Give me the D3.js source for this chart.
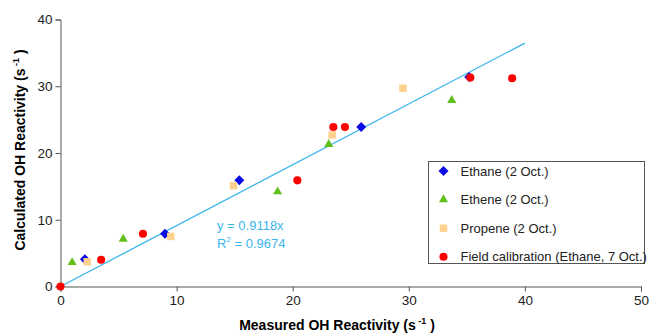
<!DOCTYPE html>
<html>
<head>
<meta charset="utf-8">
<script src="https://cdn.jsdelivr.net/npm/d3@7"></script>
<style>
  body { margin: 0; background: #fff; }
  svg { font-family: "Liberation Sans", Arial, sans-serif; }
  .axis path, .axis line { stroke: #555; }
  .axis text { fill: #222; font-size: 13.5px; }
</style>
</head>
<body>
<div id="chart"></div>
<script>
const width = 649
const height = 334

// Values
const ethaneX = [2.1, 9.0, 15.4, 25.9, 35.2]
const ethaneY = [4.1, 7.9, 15.9, 23.9, 31.4]
const etheneX = [1.0, 5.4, 18.7, 23.1, 33.7]
const etheneY = [3.6, 7.1, 14.2, 21.3, 27.9]
const propeneX = [2.3, 9.5, 14.9, 23.4, 29.5]
const propeneY = [3.7, 7.5, 15.1, 22.7, 29.7]
const fieldX = [0, 3.5, 7.1, 20.4, 23.5, 24.5, 35.3, 38.9]
const fieldY = [0, 4.0, 7.9, 15.9, 23.9, 23.9, 31.3, 31.2]

const fitSlope = 0.9118
const fitR2 = 0.9674
const fitRange = [0, 40]

const xTicks = [0, 10, 20, 30, 40, 50]
const yTicks = [0, 10, 20, 30, 40]

const margin = {left: 60.5, right: 8, top: 19.5, bottom: 47.5}

const x = d3.scaleLinear().domain([0, 50]).range([margin.left, width - margin.right])
const y = d3.scaleLinear().domain([0, 40]).range([height - margin.bottom, margin.top])

const svg = d3.select("#chart").append("svg")
    .attr("width", width)
    .attr("height", height)

// axes
svg.append("g")
    .attr("class", "axis")
    .attr("transform", "translate(0," + y(0) + ")")
    .call(d3.axisBottom(x).tickValues(xTicks).tickSize(5).tickPadding(4))

svg.append("g")
    .attr("class", "axis")
    .attr("transform", "translate(" + x(0) + ",0)")
    .call(d3.axisLeft(y).tickValues(yTicks).tickSize(5).tickPadding(3))

// axis titles with superscript
function addTitle(g, label) {
  g.append("tspan").text(label + " (s")
  g.append("tspan").attr("dy", -6).attr("font-size", "9px").text(" -1")
  g.append("tspan").attr("dy", 6).text(" )")
}

let xTitle = svg.append("text")
    .attr("x", 337)
    .attr("y", 330)
    .attr("text-anchor", "middle")
    .attr("font-weight", "bold")
    .attr("font-size", "14px")
addTitle(xTitle, "Measured OH Reactivity")

let yTitle = svg.append("text")
    .attr("transform", "translate(25,150) rotate(-90)")
    .attr("text-anchor", "middle")
    .attr("font-weight", "bold")
    .attr("font-size", "14px")
addTitle(yTitle, "Calculated OH Reactivity")

// fit line
const fitColor = "#3db5ec"
svg.append("line")
    .attr("x1", x(fitRange[0]))
    .attr("y1", y(fitSlope * fitRange[0]))
    .attr("x2", x(fitRange[1]))
    .attr("y2", y(fitSlope * fitRange[1]))
    .attr("stroke", fitColor)
    .attr("stroke-width", 1.3)

let eq = svg.append("g").attr("fill", fitColor).attr("font-size", "13px")
eq.append("text").attr("x", 217).attr("y", 230).text("y = " + fitSlope + "x")
let r2 = eq.append("text").attr("x", 217).attr("y", 248)
r2.append("tspan").text("R")
r2.append("tspan").attr("dy", -6).attr("font-size", "8px").text("2")
r2.append("tspan").attr("dy", 6).text(" = " + fitR2)

// series; the diamond is a square turned 45 degrees
const series = [
  {name: "Ethane (2 Oct.)", xs: ethaneX, ys: ethaneY, shape: d3.symbolSquare, size: 50, rot: 45, color: "#0a0ae6"},
  {name: "Ethene (2 Oct.)", xs: etheneX, ys: etheneY, shape: d3.symbolTriangle, size: 36, rot: 0, color: "#62c01c"},
  {name: "Propene (2 Oct.)", xs: propeneX, ys: propeneY, shape: d3.symbolSquare, size: 56, rot: 0, color: "#fdd28e"},
  {name: "Field calibration (Ethane, 7 Oct.)", xs: fieldX, ys: fieldY, shape: d3.symbolCircle, size: 52, rot: 0, color: "#ff0000"}
]

series.forEach(function(s) {
  let pts = s.xs.map(function(v, i) { return [v, s.ys[i]] })
  svg.append("g").selectAll("path")
    .data(pts)
    .enter().append("path")
    .attr("d", d3.symbol().type(s.shape).size(s.size))
    .attr("transform", function(d) { return "translate(" + x(d[0]) + "," + y(d[1]) + ") rotate(" + s.rot + ")" })
    .attr("fill", s.color)
})

// legend
const legend = svg.append("g").attr("transform", "translate(428.5,161.5)")
legend.append("rect")
    .attr("width", 216)
    .attr("height", 102)
    .attr("fill", "#fff")
    .attr("stroke", "#555")
    .attr("stroke-width", 1)

series.forEach(function(s, i) {
  let row = legend.append("g").attr("transform", "translate(0," + (9.5 + i * 28.6) + ")")
  row.append("path")
    .attr("d", d3.symbol().type(s.shape).size(s.size))
    .attr("transform", "translate(15,0) rotate(" + s.rot + ")")
    .attr("fill", s.color)
  row.append("text")
    .attr("x", 32)
    .attr("y", 4.5)
    .attr("font-size", "13px")
    .attr("fill", "#222")
    .text(s.name)
})
</script>
</body>
</html>
